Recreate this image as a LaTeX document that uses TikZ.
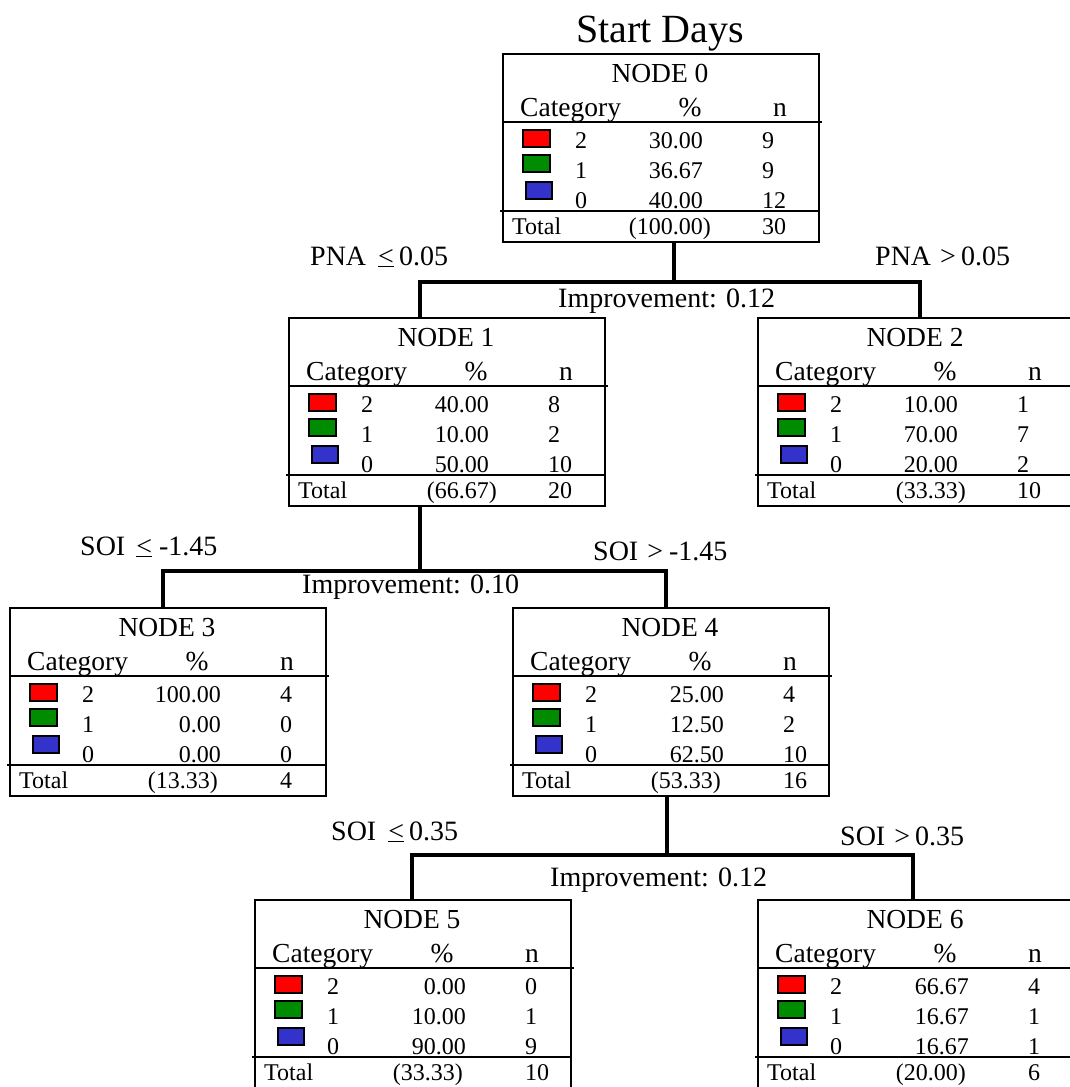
\documentclass[tikz,border=0pt]{standalone}
\usepackage{fontspec}
\setmainfont{Liberation Serif}
\definecolor{catred}{HTML}{FF0000}
\definecolor{catgreen}{HTML}{008C00}
\definecolor{catblue}{HTML}{3333CC}
\usetikzlibrary{positioning}

\begin{document}
\begin{tikzpicture}[x=1pt,y=-1pt,every node/.style={inner sep=0pt},
  nodebox/.style={draw,line width=2pt,minimum width=316pt,minimum height=188pt,anchor=north west},
  headtxt/.style={font=\fontsize{27.5}{30}\selectfont},
  datatxt/.style={font=\fontsize{24}{28}\selectfont},
  splittxt/.style={font=\fontsize{28}{32}\selectfont,anchor=base west},
  rule/.style={line width=2pt},
  swatch/.style={draw=black,line width=1.8pt},
  branch/.style={line width=4pt}]
\useasboundingbox (0,0) rectangle (1069,1087);
\node[font=\fontsize{40}{44}\selectfont,anchor=base] (title) at (660,42) {Start Days};
\foreach \id/\L/\T/\dx/\pa/\na/\pb/\nb/\pc/\nc/\pt/\nt in {
  0/502/53/-11/30.00/9/36.67/9/40.00/12/100.00/30,
  1/288/317/-11/40.00/8/10.00/2/50.00/10/66.67/20,
  2/757/317/-11/10.00/1/70.00/7/20.00/2/33.33/10,
  3/9/607/0/100.00/4/0.00/0/0.00/0/13.33/4,
  4/512/607/0/25.00/4/12.50/2/62.50/10/53.33/16,
  5/254/899/0/0.00/0/10.00/1/90.00/9/33.33/10,
  6/757/899/0/66.67/4/16.67/1/16.67/1/20.00/6}{
\node[nodebox] (box\id) at (\L,\T) {};
\begin{scope}[shift={(\L,\T)}]
\node[headtxt,anchor=base] (ttl\id) at (158,29) {NODE \id};
\node[headtxt,anchor=base west] (cat\id) at (18,63) {Category};
\node[headtxt,anchor=base] (pcth\id) at (188,63) {\%};
\node[headtxt,anchor=base] (nh\id) at (278,63) {n};
\draw[rule] (0,69) -- (320,69);
\draw[swatch,fill=catred] (21,77) rectangle (48,94);
\draw[swatch,fill=catgreen] (21,102) rectangle (48,119);
\draw[swatch,fill=catblue] (24,129) rectangle (50,146);
\node[datatxt,anchor=base] (ca\id) at (79,95) {2};
\node[datatxt,anchor=base] (cb\id) at (79,125) {1};
\node[datatxt,anchor=base] (cc\id) at (79,155) {0};
\node[datatxt,anchor=base east] (pa\id) at (212+\dx,95) {\pa};
\node[datatxt,anchor=base east] (pb\id) at (212+\dx,125) {\pb};
\node[datatxt,anchor=base east] (pc\id) at (212+\dx,155) {\pc};
\node[datatxt,anchor=base west] (na\id) at (271+\dx,95) {\na};
\node[datatxt,anchor=base west] (nb\id) at (271+\dx,125) {\nb};
\node[datatxt,anchor=base west] (nc\id) at (271+\dx,155) {\nc};
\draw[rule] (-2,158) -- (316,158);
\node[datatxt,anchor=base west] (tl\id) at (10,181) {Total};
\node[datatxt,anchor=base east] (tp\id) at (209,181) {(\pt)};
\node[datatxt,anchor=base west] (tn\id) at (271+\dx,181) {\nt};
\end{scope}
}
\coordinate (split0) at (674,282);
\coordinate (split1) at (420,571);
\coordinate (split4) at (667,855);
\draw[branch] (box0.south -| split0) -- (split0);
\draw[branch] (box1.north -| 420,0) |- (split0) -| (box2.north -| 920,0);
\draw[branch] (box1.south -| split1) -- (split1);
\draw[branch] (box3.north -| 163,0) |- (split1) -| (box4.north -| 666,0);
\draw[branch] (box4.south -| split4) -- (split4);
\draw[branch] (box5.north -| 412,0) |- (split4) -| (box6.north -| 913,0);
\node[splittxt] (lblA) at (310,265) {PNA\hspace{12pt}\underline{<}\hspace{5pt}0.05};
\node[splittxt] (lblB) at (875,265) {PNA\hspace{9pt}>\hspace{5pt}0.05};
\node[splittxt] (impA) at (558,307) {Improvement: 0.12};
\node[splittxt] (lblC) at (80,555) {SOI\hspace{11pt}\underline{<}\hspace{7pt}-1.45};
\node[splittxt] (lblD) at (593,560) {SOI\hspace{9pt}>\hspace{6pt}-1.45};
\node[splittxt] (impB) at (302,593) {Improvement: 0.10};
\node[splittxt] (lblE) at (331,840) {SOI\hspace{12pt}\underline{<}\hspace{5pt}0.35};
\node[splittxt] (lblF) at (840,845) {SOI\hspace{9pt}>\hspace{5pt}0.35};
\node[splittxt] (impC) at (550,886) {Improvement: 0.12};
\end{tikzpicture}
\end{document}
